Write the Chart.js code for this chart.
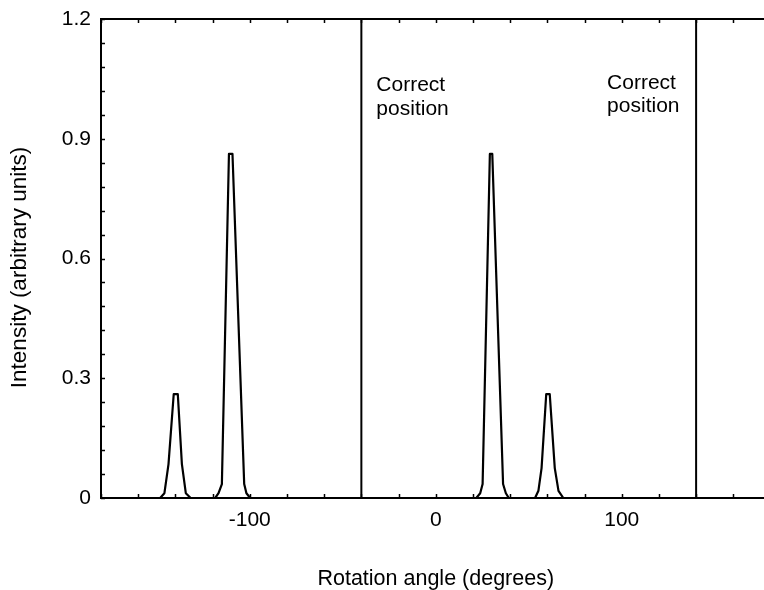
<!DOCTYPE html>
<html>
<head>
<meta charset="utf-8">
<script src="https://cdn.jsdelivr.net/npm/chart.js@4/dist/chart.umd.min.js"></script>
<style>
  html, body { margin: 0; padding: 0; background: #fff; overflow: hidden; }
  #wrap { width: 764px; height: 590px; overflow: hidden; }
</style>
</head>
<body>
<div id="wrap"><canvas id="rotationChart" width="772" height="590"></canvas></div>
<script>
// Measured intensity profile vs rotation angle
const angle = [
  -180,
  -148.2, -145.9, -143.7, -140.9, -138.7, -136.5, -134.4, -131.8,
  -118.6, -116.8, -115.0, -111.2, -109.3, -103.0, -101.8, -99.8,
  21.8, 23.9, 25.2, 29.1, 30.4, 36.2, 37.7, 39.3,
  53.4, 55.2, 56.9, 59.4, 61.3, 64.0, 66.0, 68.6,
  180
];
const intensity = [
  0,
  0, 0.012, 0.085, 0.26, 0.26, 0.085, 0.012, 0,
  0, 0.012, 0.035, 0.862, 0.862, 0.035, 0.012, 0,
  0, 0.012, 0.035, 0.862, 0.862, 0.035, 0.012, 0,
  0, 0.018, 0.075, 0.26, 0.26, 0.075, 0.018, 0,
  0
];

// Angles of the two "correct position" markers
const correctPositions = [-40, 140];

const xRange = [-180, 180];
const xLabelled = [-100, 0, 100];
const yRange = [0, 1.2];
const yLabelled = ['0', '0.3', '0.6', '0.9', '1.2'];

const FONT = '"Liberation Sans", Arial, Helvetica, sans-serif';

const profile = angle.map((a, i) => ({ x: a, y: intensity[i] }));

const markerSets = correctPositions.map(p => ({
  data: [{ x: p, y: yRange[0] }, { x: p, y: yRange[1] }],
  borderColor: '#000',
  borderWidth: 2,
  pointRadius: 0,
  fill: false
}));

// top border, inward ticks, y title and the marker captions
const frameDecor = {
  id: 'frameDecor',
  afterDraw(chart) {
    const { ctx, chartArea: a, scales: { x, y } } = chart;
    ctx.save();
    ctx.strokeStyle = '#000';
    ctx.lineWidth = 2;
    ctx.beginPath();
    ctx.moveTo(a.left - 1, a.top);
    ctx.lineTo(a.right + 2, a.top);
    ctx.stroke();

    ctx.lineWidth = 1.5;
    ctx.beginPath();
    x.ticks.forEach(t => {
      const px = Math.round(x.getPixelForValue(t.value)) + 0.5;
      ctx.moveTo(px, a.bottom);
      ctx.lineTo(px, a.bottom - 4);
      ctx.moveTo(px, a.top);
      ctx.lineTo(px, a.top + 4);
    });
    y.ticks.forEach(t => {
      const py = Math.round(y.getPixelForValue(t.value)) + 0.5;
      ctx.moveTo(a.left, py);
      ctx.lineTo(a.left + 4, py);
    });
    ctx.stroke();

    ctx.fillStyle = '#000';

    // y axis title, set a little below the plot's middle
    ctx.save();
    ctx.translate(20, (a.top + a.bottom) / 2 + 9);
    ctx.rotate(-Math.PI / 2);
    ctx.font = '22.5px ' + FONT;
    ctx.textAlign = 'center';
    ctx.textBaseline = 'middle';
    ctx.fillText('Intensity (arbitrary units)', 0, 0);
    ctx.restore();

    ctx.font = '21px ' + FONT;
    ctx.textAlign = 'left';
    ctx.textBaseline = 'alphabetic';
    const p0 = x.getPixelForValue(correctPositions[0]);
    const p1 = x.getPixelForValue(correctPositions[1]);
    ctx.fillText('Correct', p0 + 15, a.top + 72);
    ctx.fillText('position', p0 + 15, a.top + 96);
    ctx.fillText('Correct', p1 - 89, a.top + 70);
    ctx.fillText('position', p1 - 89, a.top + 93);
    ctx.restore();
  }
};

new Chart(document.getElementById('rotationChart').getContext('2d'), {
  type: 'line',
  data: {
    datasets: [
      {
        data: profile,
        borderColor: '#000',
        borderWidth: 2.2,
        borderJoinStyle: 'round',
        pointRadius: 0,
        tension: 0,
        fill: false
      },
      ...markerSets
    ]
  },
  options: {
    responsive: false,
    animation: false,
    devicePixelRatio: 1,
    layout: { padding: { top: 19, right: 1.5, left: 0, bottom: 0 } },
    plugins: {
      legend: { display: false },
      tooltip: { enabled: false }
    },
    scales: {
      x: {
        type: 'linear',
        min: xRange[0],
        max: xRange[1],
        afterFit: s => { s.height = 92; s.paddingLeft = 0; s.paddingRight = 0; },
        grid: { display: false, drawTicks: false },
        border: { display: true, color: '#000', width: 2 },
        ticks: {
          stepSize: 20,
          autoSkip: false,
          maxRotation: 0,
          padding: 12,
          color: '#000',
          font: { family: FONT, size: 21, lineHeight: 1 },
          callback: v => xLabelled.includes(v) ? String(v) : ''
        },
        title: {
          display: true,
          text: 'Rotation angle (degrees)',
          color: '#000',
          font: { family: FONT, size: 21.5, lineHeight: 1 },
          padding: { top: 0, bottom: 0 }
        }
      },
      y: {
        min: yRange[0],
        max: yRange[1],
        afterFit: s => { s.width = 101; s.paddingTop = 0; s.paddingBottom = 0; },
        grid: { display: false, drawTicks: false },
        border: { display: true, color: '#000', width: 2 },
        ticks: {
          stepSize: 0.06,
          autoSkip: false,
          padding: 10,
          color: '#000',
          font: { family: FONT, size: 21, lineHeight: 1 },
          callback: v => {
            const s = String(Math.round(v * 100) / 100);
            return yLabelled.includes(s) ? s : '';
          }
        }
      }
    }
  },
  plugins: [frameDecor]
});
</script>
</body>
</html>
